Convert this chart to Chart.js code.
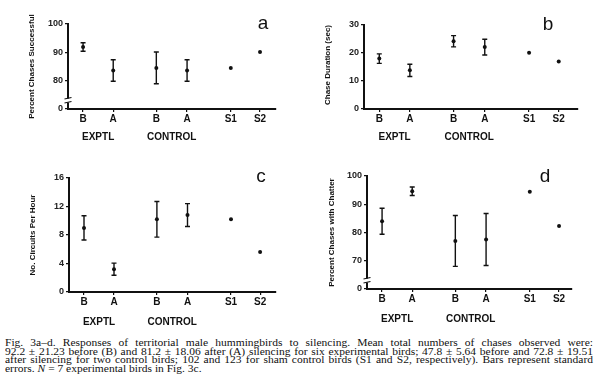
<!DOCTYPE html>
<html>
<head>
<meta charset="utf-8">
<script src="https://cdn.jsdelivr.net/npm/chart.js@4.4.0/dist/chart.umd.min.js"></script>
<style>
  body { margin: 0; background: #fff; }
  #wrap { position: relative; width: 600px; height: 388px; overflow: hidden; }
  canvas { position: absolute; }
  #caption { position: absolute; left: 5px; top: 339px; width: 588px; font-family: "Liberation Serif", "Times New Roman", serif; font-size: 10px; line-height: 8.7px; color: #111; }
  #caption div { white-space: nowrap; transform-origin: left top; }
</style>
</head>
<body>
<div id="wrap">
  <canvas id="chartA" width="300" height="150" style="left:0;top:0"></canvas>
  <canvas id="chartB" width="300" height="150" style="left:300px;top:0"></canvas>
  <canvas id="chartC" width="300" height="180" style="left:0;top:150px"></canvas>
  <canvas id="chartD" width="300" height="180" style="left:300px;top:150px"></canvas>
  <div id="caption">
    <div>Fig. 3a–d. Responses of territorial male hummingbirds to silencing. Mean total numbers of chases observed were:</div>
    <div>92.2 ± 21.23 before (B) and 81.2 ± 18.06 after (A) silencing for six experimental birds; 47.8 ± 5.64 before and 72.8 ± 19.51</div>
    <div>after silencing for two control birds; 102 and 123 for sham control birds (S1 and S2, respectively). Bars represent standard</div>
    <div class="last">errors. <i>N</i> = 7 experimental birds in Fig. 3c.</div>
  </div>
</div>
<script>
// categorias e posicoes no eixo x
const categories = ['B', 'A', 'B', 'A', 'S1', 'S2'];
const slots = [0, 1, 2.43, 3.45, 4.9, 5.87];
const groups = ['EXPTL', 'CONTROL'];

// a - percent chases successful
const successMean = [91.9, 83.6, 84.5, 83.6, 84.5, 90.1];
const successErr = [1.5, 3.8, 5.6, 3.8, null, null];
const successTicks = [70, 80, 90, 100];
const successLabels = ['0', '80', '90', '100'];

// b - chase duration
const durationMean = [18.0, 13.8, 24.2, 22.1, 20.1, 17.0];
const durationErr = [1.7, 2.2, 2.0, 2.8, null, null];
const durationTicks = [0, 10, 20, 30];
const durationLabels = ['0', '10', '20', '30'];

// c - circuits per hour
const circuitsMean = [9.0, 3.2, 10.2, 10.8, 10.2, 5.6];
const circuitsErr = [1.7, 0.85, 2.5, 1.6, null, null];
const circuitsTicks = [0, 4, 8, 12, 16];
const circuitsLabels = ['0', '4', '8', '12', '16'];

// d - percent chases with chatter
const chatterMean = [84.0, 94.6, 77.0, 77.5, 94.4, 82.3];
const chatterErr = [4.6, 1.5, 9.0, 9.2, null, null];
const chatterTicks = [60, 70, 80, 90, 100];
const chatterLabels = ['0', '70', '80', '90', '100'];

const ink = '#111';

function painel(id, cfg) {
  const canvas = document.getElementById(id);
  const W = canvas.width, H = canvas.height;
  const area = cfg.area; // left, top, right, bottom

  const extras = {
    id: 'extras',
    afterDatasetsDraw(chart) {
      const ctx = chart.ctx;
      const x = chart.scales.x, y = chart.scales.y;
      ctx.save();
      ctx.strokeStyle = ink;
      ctx.lineWidth = 1.4;
      // barras de erro
      cfg.means.forEach((m, i) => {
        const e = cfg.errors[i];
        if (e == null) return;
        const px = x.getPixelForValue(slots[i]);
        const top = y.getPixelForValue(m + e);
        const bot = y.getPixelForValue(m - e);
        ctx.beginPath();
        ctx.moveTo(px, top); ctx.lineTo(px, bot);
        ctx.moveTo(px - 2.5, top); ctx.lineTo(px + 2.5, top);
        ctx.moveTo(px - 2.5, bot); ctx.lineTo(px + 2.5, bot);
        ctx.stroke();
      });
      // quebra do eixo
      if (cfg.breakAt != null) {
        const bx = chart.chartArea.left;
        const by = y.getPixelForValue(cfg.breakAt);
        ctx.fillStyle = '#fff';
        ctx.fillRect(bx - 3, by - 2, 6, 4);
        ctx.lineWidth = 1.2;
        ctx.beginPath();
        ctx.moveTo(bx - 3.5, by - 1.5); ctx.lineTo(bx + 3.5, by - 3);
        ctx.moveTo(bx - 3.5, by + 2.5); ctx.lineTo(bx + 3.5, by + 1);
        ctx.stroke();
      }
      // grupos
      ctx.fillStyle = ink;
      ctx.font = 'bold 10px "Liberation Sans", Arial, sans-serif';
      ctx.textAlign = 'center';
      ctx.textBaseline = 'middle';
      const gy = chart.chartArea.bottom + cfg.groupGap;
      ctx.fillText(groups[0], x.getPixelForValue((slots[0] + slots[1]) / 2), gy);
      ctx.fillText(groups[1], x.getPixelForValue((slots[2] + slots[3]) / 2), gy);
      // letra do painel
      ctx.font = '19px "Liberation Sans", Arial, sans-serif';
      ctx.textBaseline = 'alphabetic';
      ctx.fillText(cfg.letter, cfg.letterPos[0], cfg.letterPos[1]);
      ctx.restore();
    }
  };

  const eixo = { display: true, drawOnChartArea: false, tickLength: 3, color: ink, lineWidth: 1.2 };
  const borda = { color: ink, width: 2 };

  return new Chart(canvas, {
    type: 'scatter',
    data: {
      datasets: [{
        data: cfg.means.map((m, i) => ({ x: slots[i], y: m })),
        pointRadius: 2,
        pointBackgroundColor: ink,
        pointBorderWidth: 0
      }]
    },
    options: {
      responsive: false,
      animation: false,
      devicePixelRatio: 1,
      layout: { padding: { left: 0, top: area[1], right: W - area[2], bottom: 0 } },
      plugins: { legend: { display: false }, tooltip: { enabled: false } },
      scales: {
        x: {
          type: 'linear', min: -0.5, max: cfg.xMax,
          afterFit: s => { s.height = H - area[3]; },
          afterBuildTicks: s => { s.ticks = slots.map(v => ({ value: v })); },
          ticks: { autoSkip: false, maxRotation: 0, padding: 1, color: ink,
            font: { size: 10, weight: 'bold', family: '"Liberation Sans", Arial, sans-serif' },
            callback: (v, i) => categories[i] },
          grid: eixo, border: borda
        },
        y: {
          min: cfg.min, max: cfg.max,
          afterFit: s => { s.width = area[0]; },
          afterBuildTicks: s => { s.ticks = cfg.ticks.map(v => ({ value: v })); },
          ticks: { padding: 2, color: '#222',
            font: { size: 9, weight: 'bold', family: '"Liberation Sans", Arial, sans-serif' },
            callback: (v, i) => cfg.tickLabels[i] },
          grid: eixo, border: borda,
          title: { display: true, text: cfg.title, color: ink, align: cfg.titleAlign || 'center',
            font: { size: 8, weight: 'bold', family: '"Liberation Sans", Arial, sans-serif' },
            padding: { top: cfg.titleX - 5, bottom: 0 } }
        }
      }
    },
    plugins: [extras]
  });
}

painel('chartA', {
  means: successMean, errors: successErr, ticks: successTicks, tickLabels: successLabels,
  min: 70, max: 100, breakAt: 73, title: 'Percent Chases Successful', titleX: 32,
  area: [68, 24, 276, 109], xMax: 6.4, groupGap: 28, letter: 'a', letterPos: [263, 29]
});

painel('chartB', {
  means: durationMean, errors: durationErr, ticks: durationTicks, tickLabels: durationLabels,
  min: 0, max: 30, title: 'Chase Duration (sec)', titleX: 28, titleAlign: 'end',
  area: [64, 25, 278, 109], xMax: 6.5, groupGap: 28, letter: 'b', letterPos: [248, 30]
});

painel('chartC', {
  means: circuitsMean, errors: circuitsErr, ticks: circuitsTicks, tickLabels: circuitsLabels,
  min: 0, max: 16, title: 'No. Circuits Per Hour', titleX: 33,
  area: [69, 28, 276, 142], xMax: 6.4, groupGap: 30, letter: 'c', letterPos: [261, 32]
});

painel('chartD', {
  means: chatterMean, errors: chatterErr, ticks: chatterTicks, tickLabels: chatterLabels,
  min: 60, max: 100, breakAt: 63, title: 'Percent Chases with Chatter', titleX: 32,
  area: [67, 26, 272, 139], xMax: 6.3, groupGap: 30, letter: 'd', letterPos: [245, 32]
});

// legenda: estica cada linha na horizontal para ocupar a largura toda
const largura = 588;
const linhas = document.querySelectorAll('#caption div');
let escala = 1.15;
linhas.forEach(d => {
  d.style.display = 'inline-block';
  escala = Math.min(escala, largura / d.offsetWidth);
});
linhas.forEach(d => {
  d.style.display = 'block';
  d.style.width = (largura / escala) + 'px';
  d.style.transform = 'scaleX(' + escala + ')';
  d.style.textAlign = 'justify';
  d.style.textAlignLast = d.classList.contains('last') ? 'left' : 'justify';
});
</script>
</body>
</html>
